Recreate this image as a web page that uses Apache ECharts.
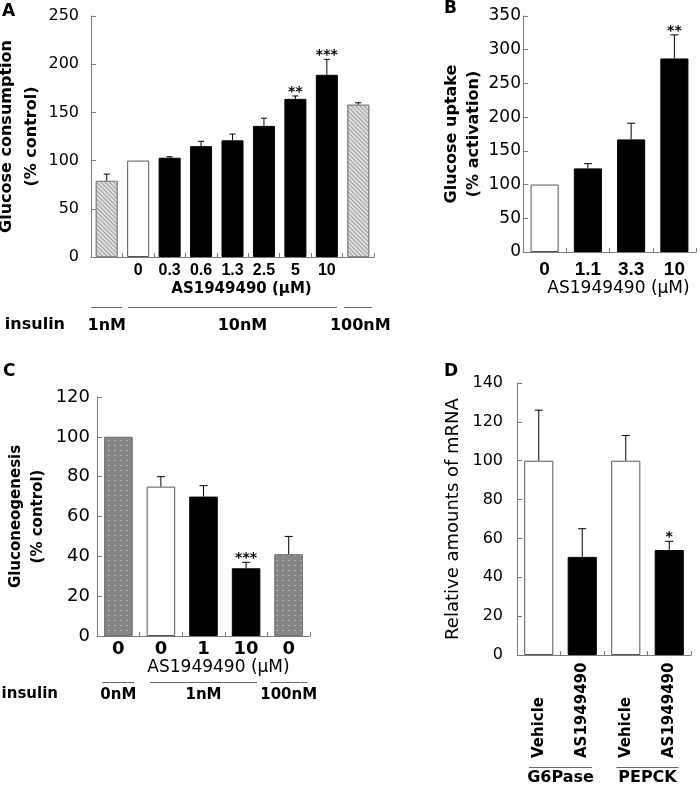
<!DOCTYPE html>
<html><head><meta charset="utf-8">
<script src="https://cdn.jsdelivr.net/npm/echarts@6/dist/echarts.min.js"></script>
<style>html,body{margin:0;padding:0;background:#fff}#c{width:700px;height:789px}</style>
</head><body><div id="c"></div>
<script>
// ---------- Panel A : glucose consumption ----------
const aCategories = ['', '0', '0.3', '0.6', '1.3', '2.5', '5', '10', ''];
const aValues = [79, 100, 103, 115, 121, 136, 164, 189, 158];
const aErrTop = [86, null, 104, 120, 127.5, 144, 167, 205, 160];
const aStars = ['', '', '', '', '', '', '**', '***', ''];
const aInsulin = ['1nM', '', '', '', '10nM', '', '', '', '100nM'];
const aYMax = 250, aYStep = 50;
// ---------- Panel B : glucose uptake ----------
const bCategories = ['0', '1.1', '3.3', '10'];
const bValues = [100, 124, 167, 287];
const bErrTop = [null, 131, 191, 322];
const bStars = ['', '', '', '**'];
const bYMax = 350, bYStep = 50;
// ---------- Panel C : gluconeogenesis ----------
const cCategories = ['0', '0', '1', '10', '0'];
const cValues = [100, 75, 70, 34, 41];
const cErrTop = [null, 80, 75.5, 37, 50];
const cStars = ['', '', '', '***', ''];
const cInsulin = ['0nM', '', '1nM', '', '100nM'];
const cYMax = 120, cYStep = 20;
// ---------- Panel D : mRNA ----------
const dCategories = ['Vehicle', 'AS1949490', 'Vehicle', 'AS1949490'];
const dValues = [100, 50.5, 100, 54];
const dErrTop = [126, 65, 113, 58.5];
const dStars = ['', '', '', '*'];
const dGenes = ['G6Pase', 'PEPCK'];
const dYMax = 140, dYStep = 20;

// ---------- styles ----------
const aFill = ['hatch', 'open', 'solid', 'solid', 'solid', 'solid', 'solid', 'solid', 'hatch'];
const bFill = ['open', 'solid', 'solid', 'solid'];
const cFill = ['dots', 'open', 'solid', 'solid', 'dots'];
const dFill = ['open', 'solid', 'open', 'solid'];

const DV = 'DejaVu Sans', LS = 'Liberation Sans';
const AX = '#7a7a7a';

function fillStyle(k) {
  if (k === 'open') return { color: '#fff', borderColor: '#555', borderWidth: 1 };
  if (k === 'solid') return { color: '#000', borderColor: '#000', borderWidth: 1 };
  if (k === 'hatch') return { color: '#e2e2e2', borderColor: '#888', borderWidth: 1,
    decal: { symbol: 'rect', symbolSize: 1, dashArrayX: [1, 0], dashArrayY: [1, 2], rotation: Math.PI / 4, color: 'rgba(80,80,80,0.5)' } };
  return { color: '#858585', borderColor: '#777', borderWidth: 1,
    decal: { symbol: 'rect', symbolSize: 1, dashArrayX: [[2, 4]], dashArrayY: [1, 4], color: '#b5b5b5' } };
}

function errRender(stars, capW) {
  return function (params, api) {
    const i = api.value(0), v = api.value(1), e = api.value(2);
    const base = api.coord([i, v]);
    let topY = base[1];
    const ch = [];
    if (!isNaN(e) && e != null) {
      const t = api.coord([i, e]);
      ch.push({ type: 'line', shape: { x1: base[0], y1: base[1], x2: t[0], y2: t[1] }, style: { stroke: '#000', lineWidth: 1 } });
      ch.push({ type: 'line', shape: { x1: t[0] - capW / 2, y1: t[1], x2: t[0] + capW / 2, y2: t[1] }, style: { stroke: '#000', lineWidth: 1 } });
      topY = t[1];
    }
    const s = stars[params.dataIndex];
    if (s) ch.push({ type: 'text', style: { text: s, x: base[0], y: topY + 3, align: 'center', verticalAlign: 'bottom', font: 'bold 14px "DejaVu Sans"', fill: '#000' } });
    return { type: 'group', children: ch };
  };
}

function yAxis(grid, max, step, fs, margin, name, gap, nfs, nlh, bold) {
  return {
    type: 'value', gridIndex: grid, min: 0, max: max, interval: step,
    axisLine: { show: true, lineStyle: { color: AX, width: 1 } },
    axisTick: { show: true, inside: true, length: 5, lineStyle: { color: AX } },
    splitLine: { show: false },
    axisLabel: { margin: margin, color: '#000', fontFamily: DV, fontSize: fs },
    name: name, nameLocation: 'middle', nameRotate: 90, nameGap: gap,
    nameTextStyle: { color: '#000', fontFamily: DV, fontSize: nfs, fontWeight: bold ? 'bold' : 'normal', lineHeight: nlh }
  };
}

function xAxis(grid, cats, fam, fs, margin, name, gap, nfs, nbold, padLeft) {
  return {
    type: 'category', gridIndex: grid, data: cats,
    axisLine: { show: true, lineStyle: { color: AX, width: 1 } },
    axisTick: { show: true, inside: true, length: 4, lineStyle: { color: AX } },
    axisLabel: { interval: 0, margin: margin, color: '#000', fontFamily: fam, fontSize: fs, fontWeight: 'bold' },
    name: name, nameLocation: 'middle', nameGap: gap,
    nameTextStyle: { color: '#000', fontFamily: DV, fontSize: nfs, fontWeight: nbold ? 'bold' : 'normal', padding: [0, 0, 0, padLeft] }
  };
}

function groupAxis(grid, cats, offset, lineW, textLH, fs, shift, name, nameGap) {
  const rich = { t: { fontFamily: DV, fontSize: fs, fontWeight: 'bold', color: '#000', lineHeight: textLH } };
  const idx = {};
  let k = 0;
  cats.forEach((c, i) => { if (c) { rich['l' + k] = { width: lineW[k], height: 1, lineHeight: 1, fontSize: 1, backgroundColor: '#666' };
    rich['t' + k] = Object.assign({}, rich.t, { padding: [0, 0, 0, shift[k] || 0] }); idx[i] = k; k++; } });
  return {
    type: 'category', gridIndex: grid, data: cats, position: 'bottom', offset: offset,
    axisLine: { show: false }, axisTick: { show: false },
    axisLabel: { interval: 0, margin: 0, rich: rich,
      formatter: function (v, i) { return v ? '{l' + idx[i] + '| }\n{t' + idx[i] + '|' + v + '}' : ''; } },
    name: name, nameLocation: 'start', nameGap: nameGap,
    nameTextStyle: { color: '#000', fontFamily: DV, fontSize: fs, fontWeight: 'bold', verticalAlign: 'top',
      padding: [Math.round(textLH / 2 - fs / 2), 0, 0, 0] }
  };
}

function barSeries(x, y, vals, fills, gap) {
  return { type: 'bar', xAxisIndex: x, yAxisIndex: y, barCategoryGap: gap, z: 2,
    data: vals.map((v, i) => ({ value: v, itemStyle: fillStyle(fills[i]) })) };
}
function errSeries(x, y, vals, errs, stars, cap) {
  return { type: 'custom', xAxisIndex: x, yAxisIndex: y, z: 5, renderItem: errRender(stars, cap),
    encode: { x: 0, y: 1 },
    data: vals.map((v, i) => [i, v, errs[i] == null ? NaN : errs[i]]) };
}

const dAxisX = {
  type: 'category', gridIndex: 3, data: dCategories,
  axisLine: { show: true, lineStyle: { color: AX, width: 1 } },
  axisTick: { show: true, inside: true, length: 4, lineStyle: { color: AX } },
  axisLabel: { interval: 0, rotate: 90, margin: 5,
    formatter: v => '{a|' + v + '}',
    rich: { a: { width: 98, align: 'left', fontFamily: DV, fontSize: 15, fontWeight: 'bold', color: '#000' } } }
};

const gridBase = { outerBoundsMode: 'none', containLabel: false };
const option = {
  animation: false,
  backgroundColor: '#fff',
  title: [
    { text: 'A', left: 2, top: 3, padding: 0, textStyle: { fontFamily: DV, fontSize: 17, fontWeight: 'bold', color: '#000' } },
    { text: 'B', left: 444, top: 0, padding: 0, textStyle: { fontFamily: DV, fontSize: 17, fontWeight: 'bold', color: '#000' } },
    { text: 'C', left: 3, top: 363, padding: 0, textStyle: { fontFamily: DV, fontSize: 17, fontWeight: 'bold', color: '#000' } },
    { text: 'D', left: 444, top: 363, padding: 0, textStyle: { fontFamily: DV, fontSize: 17, fontWeight: 'bold', color: '#000' } }
  ],
  grid: [
    Object.assign({ left: 91, top: 16, width: 283, height: 241 }, gridBase),
    Object.assign({ left: 523, top: 16, width: 173, height: 236 }, gridBase),
    Object.assign({ left: 97, top: 397, width: 213, height: 239 }, gridBase),
    Object.assign({ left: 517, top: 383, width: 174, height: 272 }, gridBase)
  ],
  xAxis: [
    xAxis(0, aCategories, LS, 16, 6, 'AS1949490 (µM)', 25, 15, true, 18),
    groupAxis(0, aInsulin, 50, [31, 209, 28], 36, 16, [0, 20, 4], 'insulin', 26),
    xAxis(1, bCategories, LS, 19, 8, 'AS1949490 (µM)', 27, 17, false, 18),
    xAxis(2, cCategories, DV, 18, 4, 'AS1949490 (µM)', 20, 17, false, 30),
    groupAxis(2, cInsulin, 46, [32, 107, 37], 24, 15, [0, 0, 0], 'insulin', 39),
    dAxisX,
    groupAxis(3, dGenes, 112, [63, 62], 20, 16, [0, 0], '', 0)
  ],
  yAxis: [
    yAxis(0, aYMax, aYStep, 16, 12, 'Glucose consumption\n(% control)', 34, 16, 25, true),
    yAxis(1, bYMax, bYStep, 17, 2, 'Glucose uptake\n(% activation)', 37, 16, 22, true),
    yAxis(2, cYMax, cYStep, 18, 7, 'Gluconeogenesis\n(% control)', 48, 15, 22, true),
    yAxis(3, dYMax, dYStep, 16, 14, 'Relative amounts of mRNA', 54, 18, 20, false)
  ],
  series: [
    barSeries(0, 0, aValues, aFill, '30%'),
    errSeries(0, 0, aValues, aErrTop, aStars, 6),
    barSeries(2, 1, bValues, bFill, '35%'),
    errSeries(2, 1, bValues, bErrTop, bStars, 8),
    barSeries(3, 2, cValues, cFill, '33%'),
    errSeries(3, 2, cValues, cErrTop, cStars, 8),
    barSeries(5, 3, dValues, dFill, '33%'),
    errSeries(5, 3, dValues, dErrTop, dStars, 8)
  ]
};
echarts.init(document.getElementById('c'), null, { renderer: 'canvas' }).setOption(option);
</script></body></html>
